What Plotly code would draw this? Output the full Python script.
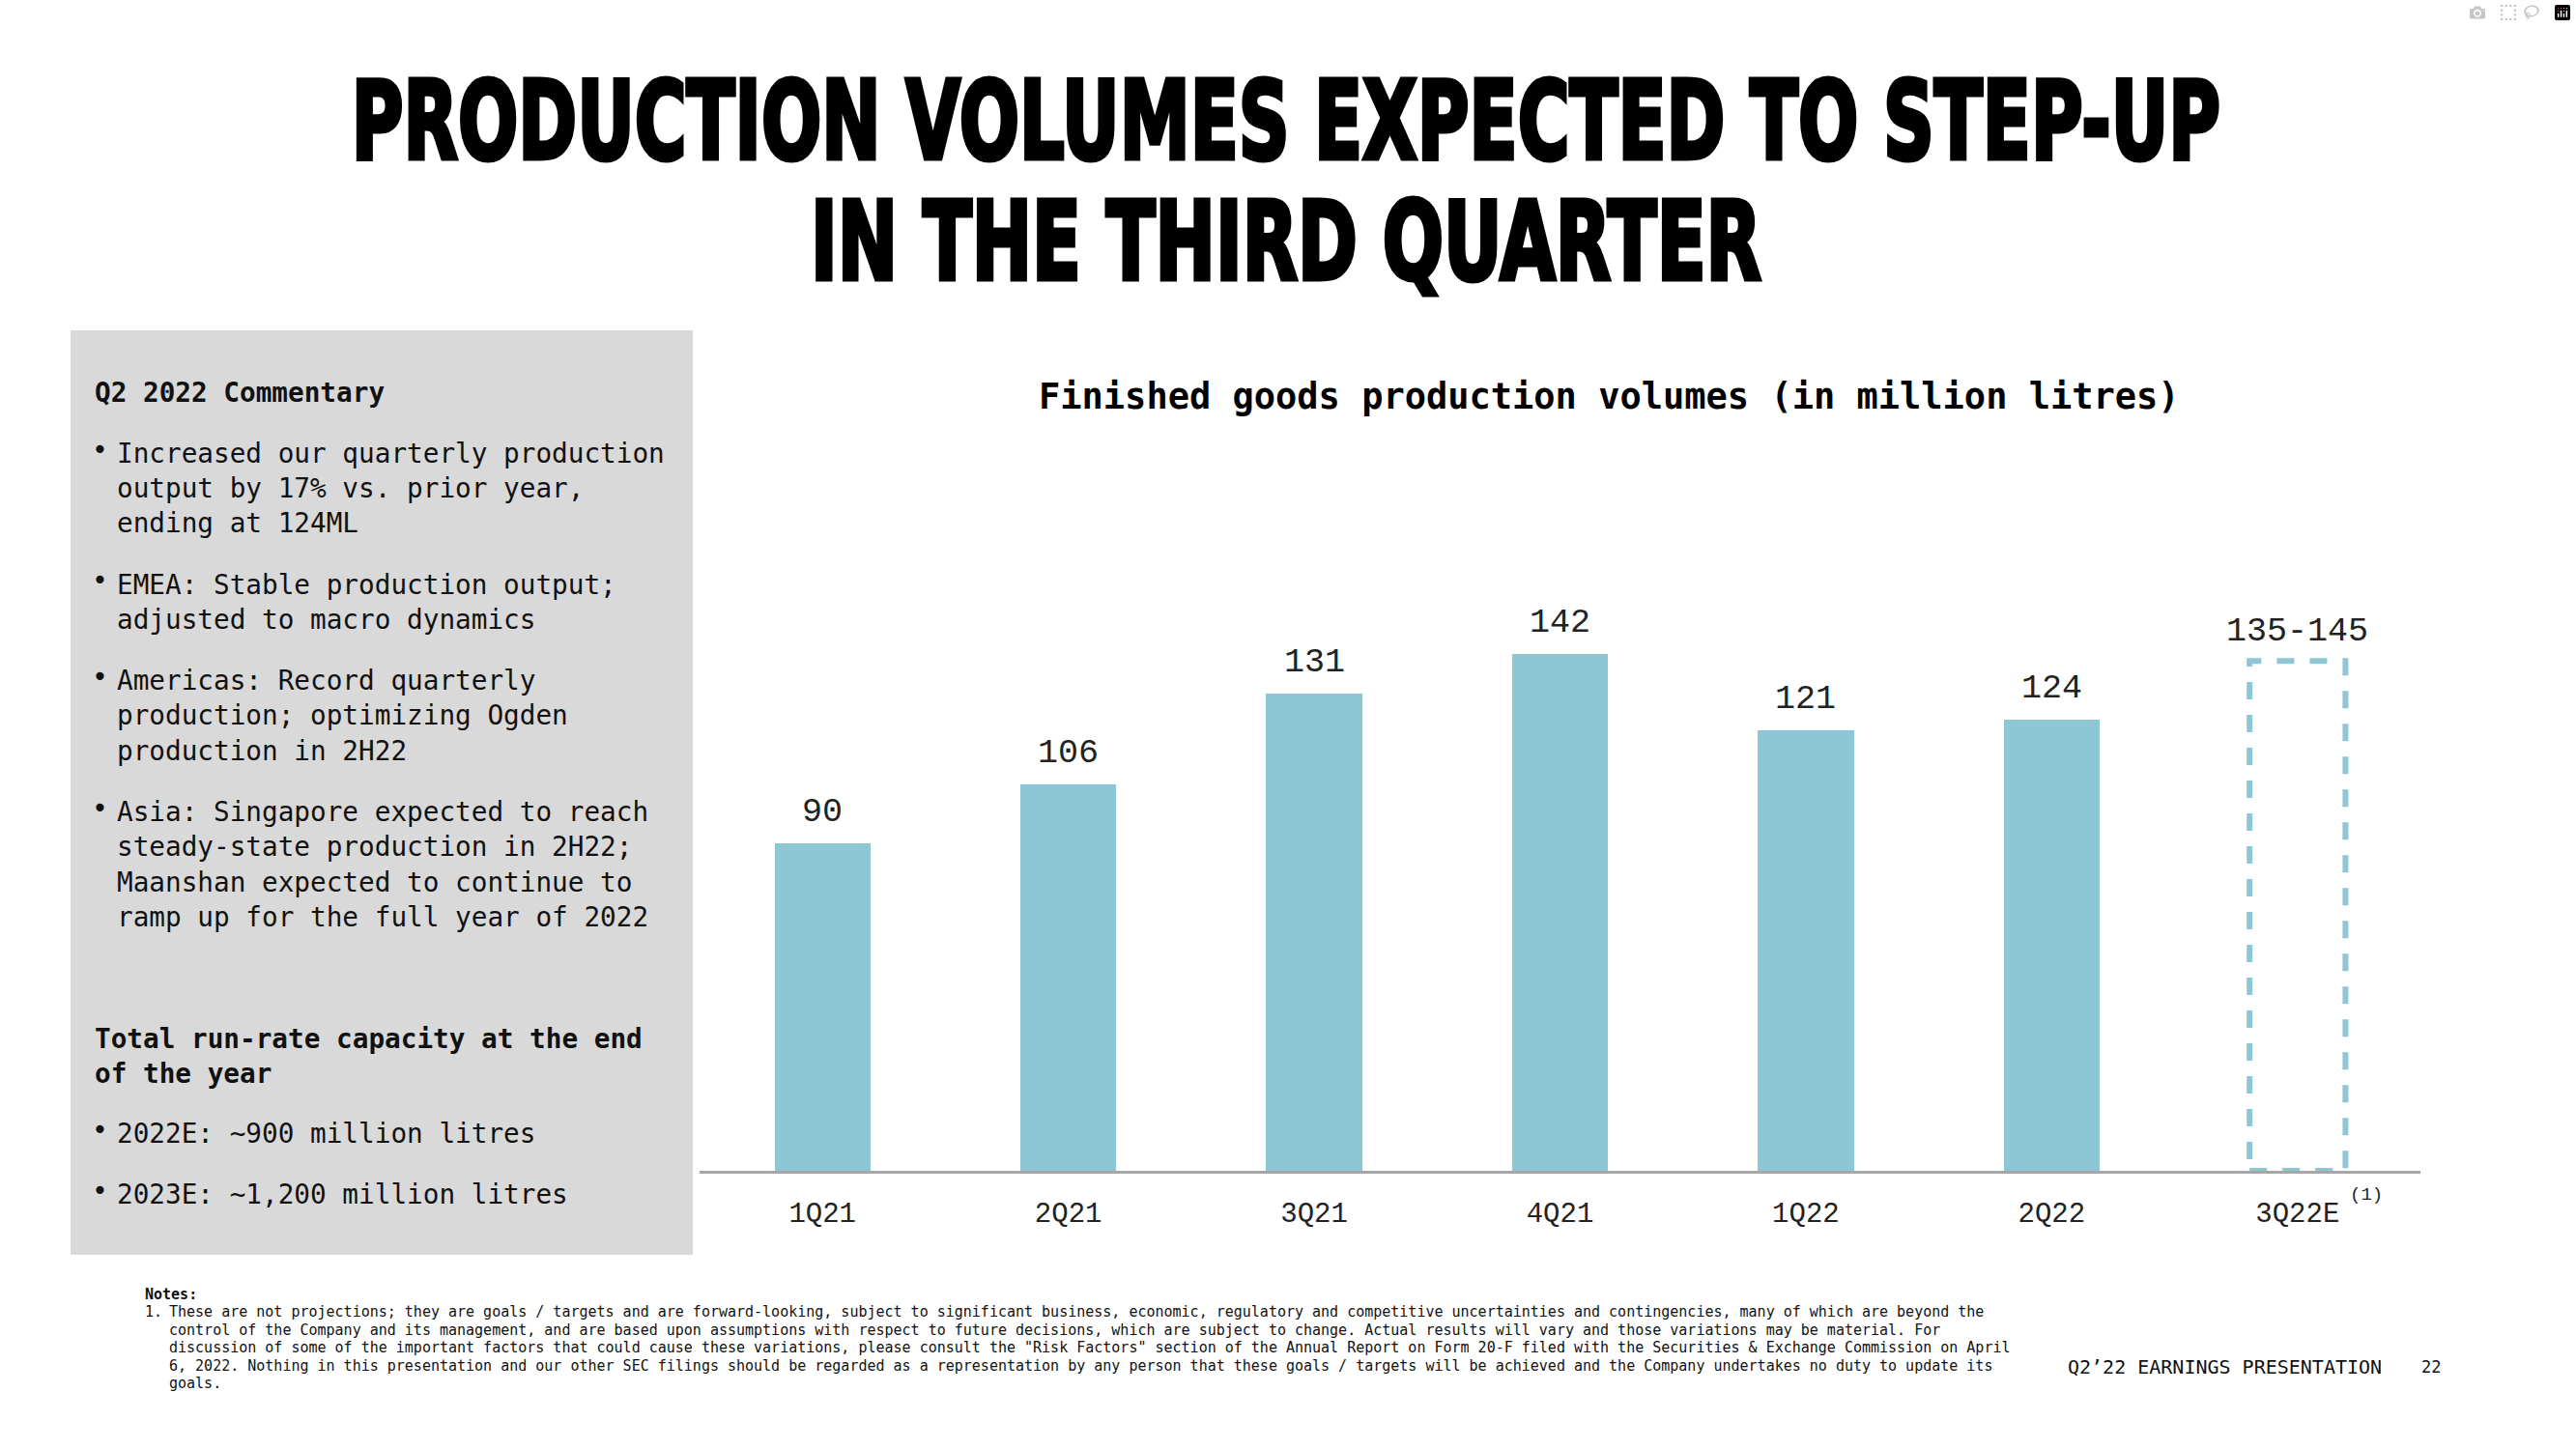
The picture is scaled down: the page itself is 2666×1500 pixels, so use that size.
import json
import plotly.graph_objects as go

W, H = 2666, 1500

# ---------------- data ----------------
categories = ["1Q21", "2Q21", "3Q21", "4Q21", "1Q22", "2Q22", "3Q22E"]
actual_values = [90, 106, 131, 142, 121, 124]
estimate_low = 135
estimate_high = 145
estimate_label = "135-145"

title_lines = ["PRODUCTION VOLUMES EXPECTED TO STEP-UP", "IN THE THIRD QUARTER"]
chart_title = "Finished goods production volumes (in million litres)"

commentary_heading = "Q2 2022 Commentary"
commentary_bullets = [
    ["Increased our quarterly production", "output by 17% vs. prior year,", "ending at 124ML"],
    ["EMEA: Stable production output;", "adjusted to macro dynamics"],
    ["Americas: Record quarterly", "production; optimizing Ogden", "production in 2H22"],
    ["Asia: Singapore expected to reach", "steady-state production in 2H22;",
     "Maanshan expected to continue to", "ramp up for the full year of 2022"],
]
capacity_heading = ["Total run-rate capacity at the end", "of the year"]
capacity_bullets = [["2022E: ~900 million litres"], ["2023E: ~1,200 million litres"]]

notes_heading = "Notes:"
notes_lines = [
    "These are not projections; they are goals / targets and are forward-looking, subject to significant business, economic, regulatory and competitive uncertainties and contingencies, many of which are beyond the",
    "control of the Company and its management, and are based upon assumptions with respect to future decisions, which are subject to change. Actual results will vary and those variations may be material. For",
    "discussion of some of the important factors that could cause these variations, please consult the \"Risk Factors\" section of the Annual Report on Form 20-F filed with the Securities & Exchange Commission on April",
    "6, 2022. Nothing in this presentation and our other SEC filings should be regarded as a representation by any person that these goals / targets will be achieved and the Company undertakes no duty to update its",
    "goals.",
]
footer_text = "Q2\u201922 EARNINGS PRESENTATION"
page_number = "22"

# ---------------- styles ----------------
BLUE = "#8DC7D5"
MONO = "DejaVu Sans Mono, Liberation Mono, monospace"
LIGHT_MONO = "Liberation Mono, DejaVu Sans Mono, monospace"
TITLE_FONT = "DejaVu Sans, sans-serif"
BAR_W = 0.39
TITLE_SCALE = [0.655, 0.665]


def px_x(x):
    return x / W


def px_y(y):
    return (H - y) / H


fig = go.Figure()

n_act = len(actual_values)
fig.add_trace(go.Bar(
    x=list(range(n_act)), y=actual_values, width=BAR_W,
    marker=dict(color=BLUE, line=dict(width=0)), showlegend=False, hoverinfo="skip",
))

est_idx = len(categories) - 1
est_mid = (estimate_low + estimate_high) / 2
# dashed estimate box drawn in data coordinates
fig.add_shape(type="rect", xref="x", yref="y",
              x0=est_idx - BAR_W / 2, x1=est_idx + BAR_W / 2, y0=0, y1=est_mid,
              line=dict(color=BLUE, width=6, dash="18px,16px"), fillcolor="rgba(0,0,0,0)")

annotations = []
# value labels
for i, v in enumerate(actual_values):
    annotations.append(dict(x=i, y=v, xref="x", yref="y", text=str(v), showarrow=False,
                            xanchor="center", yanchor="middle", yshift=32,
                            font=dict(family=LIGHT_MONO, size=35, color="#222")))
annotations.append(dict(x=est_idx, y=est_mid, xref="x", yref="y", text=estimate_label, showarrow=False,
                        xanchor="center", yanchor="middle", yshift=30,
                        font=dict(family=LIGHT_MONO, size=35, color="#222")))
# footnote marker
annotations.append(dict(x=px_x(2449), y=px_y(1237), xref="paper", yref="paper", text="(1)",
                        showarrow=False, xanchor="center", yanchor="middle",
                        font=dict(family=LIGHT_MONO, size=19, color="#222")))

# main title
for t, yc in zip(title_lines, [125, 250]):
    annotations.append(dict(x=px_x(1331), y=px_y(yc), xref="paper", yref="paper", text="<b>" + t + "</b>",
                            showarrow=False, xanchor="center", yanchor="middle",
                            font=dict(family=TITLE_FONT, size=112, color="#000")))

# chart title
annotations.append(dict(x=px_x(1665), y=px_y(410), xref="paper", yref="paper", text="<b>" + chart_title + "</b>",
                        showarrow=False, xanchor="center", yanchor="middle",
                        font=dict(family=MONO, size=37, color="#000")))

# left panel texts
TX, BX = 119, 103
LS = 36.5
panel_font = dict(family=MONO, size=27.7, color="#111")


def add_line(text, y, x=TX, bold=False):
    annotations.append(dict(x=px_x(x), y=px_y(y), xref="paper", yref="paper",
                            text=("<b>" + text + "</b>") if bold else text,
                            showarrow=False, xanchor="left", yanchor="middle", font=panel_font))


def add_bullet(y):
    annotations.append(dict(x=px_x(BX), y=px_y(y - 4), xref="paper", yref="paper", text="\u2022",
                            showarrow=False, xanchor="center", yanchor="middle",
                            font=dict(family=MONO, size=28, color="#111")))


add_line(commentary_heading, 406, x=96, bold=True)
starts = [469, 605, 704, 840]
for block, y0 in zip(commentary_bullets, starts):
    add_bullet(y0)
    for k, ln in enumerate(block):
        add_line(ln, y0 + k * LS)

for k, ln in enumerate(capacity_heading):
    add_line(ln, 1075 + k * LS, x=96, bold=True)
for block, y0 in zip(capacity_bullets, [1173, 1236]):
    add_bullet(y0)
    for k, ln in enumerate(block):
        add_line(ln, y0 + k * LS)

# notes
notes_font = dict(family=MONO, size=15, color="#111")
annotations.append(dict(x=px_x(148), y=px_y(1340), xref="paper", yref="paper", text="<b>" + notes_heading + "</b>",
                        showarrow=False, xanchor="left", yanchor="middle", font=notes_font))
annotations.append(dict(x=px_x(148), y=px_y(1358), xref="paper", yref="paper", text="1.",
                        showarrow=False, xanchor="left", yanchor="middle", font=notes_font))
for k, ln in enumerate(notes_lines):
    annotations.append(dict(x=px_x(173), y=px_y(1358 + k * 18.6), xref="paper", yref="paper", text=ln,
                            showarrow=False, xanchor="left", yanchor="middle", font=notes_font))

# footer
annotations.append(dict(x=px_x(2467), y=px_y(1415), xref="paper", yref="paper", text=footer_text,
                        showarrow=False, xanchor="right", yanchor="middle",
                        font=dict(family=MONO, size=20, color="#111")))
annotations.append(dict(x=px_x(2516), y=px_y(1415), xref="paper", yref="paper", text=page_number,
                        showarrow=False, xanchor="center", yanchor="middle",
                        font=dict(family=MONO, size=17, color="#111")))

# gray commentary panel
fig.add_shape(type="rect", xref="paper", yref="paper",
              x0=px_x(73), x1=px_x(717), y0=px_y(1299), y1=px_y(342),
              fillcolor="#D9D9D9", line=dict(width=0), layer="below")

fig.update_layout(
    width=W, height=H, margin=dict(l=0, r=0, t=0, b=0),
    paper_bgcolor="white", plot_bgcolor="white",
    showlegend=False, bargap=0,
    annotations=annotations,
    xaxis=dict(domain=[px_x(724), px_x(2505)], range=[-0.5, len(categories) - 0.5],
               tickmode="array", tickvals=list(range(len(categories))), ticktext=categories,
               showgrid=False, zeroline=False, showline=True, linecolor="#A6A6A6", linewidth=3,
               ticks="outside", ticklen=15, tickcolor="rgba(0,0,0,0)",
               tickfont=dict(family=LIGHT_MONO, size=29, color="#222"), fixedrange=True),
    yaxis=dict(domain=[px_y(1212), px_y(600)], range=[0, 612 / 3.77],
               showgrid=False, zeroline=False, showline=False, showticklabels=False, ticks="",
               fixedrange=True),
)

# condense the headline glyphs horizontally (display typeface is a condensed heavy face)
post = """
document.body.style.margin = '0';
var titles = %s;
var scales = %s;
document.querySelectorAll('text.annotation-text').forEach(function (t) {
  var k = titles.indexOf(t.textContent);
  if (k >= 0) {
    t.style.transformBox = 'fill-box';
    t.style.transformOrigin = 'center';
    t.style.transform = 'scaleX(' + scales[k] + ')';
    t.style.stroke = '#000';
    t.style.strokeWidth = '5px';
    t.style.paintOrder = 'stroke';
  }
});
""" % (json.dumps(title_lines), json.dumps(TITLE_SCALE))

fig.write_html("out.html", post_script=post)
